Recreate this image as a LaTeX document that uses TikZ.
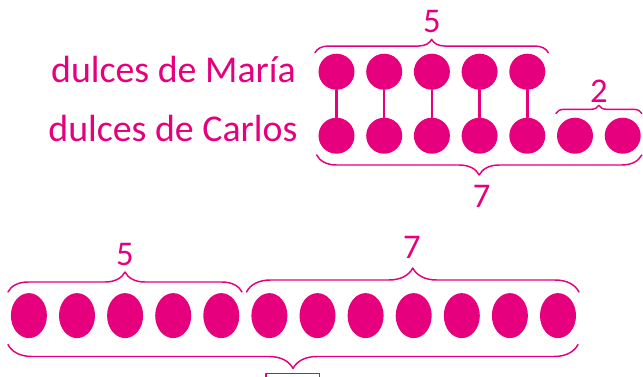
\documentclass[tikz,border=0pt]{standalone}
\usepackage{fontspec}
\setmainfont{Carlito}
\usetikzlibrary{decorations.pathreplacing,shapes.geometric}
\definecolor{rosa}{HTML}{E6007E}
\begin{document}
\begin{tikzpicture}[x=.75pt,y=-.75pt,line join=round,line cap=round,color=rosa,
  font=\fontsize{28.4}{32}\selectfont,
  dulce/.style={circle,fill=rosa,inner sep=0pt,minimum size=27pt},
  dulceo/.style={ellipse,fill=rosa,inner sep=0pt,minimum width=27pt,minimum height=33.75pt},
  llave/.style={decorate,decoration={brace,amplitude=#1},line width=1.1pt},
  num/.style={inner sep=0pt,font=\fontsize{26}{30}\selectfont}]
%========================
\useasboundingbox (0,0) rectangle (643,376);
\clip (0,0) rectangle (643,376);
% arriba
\node[inner sep=0pt,anchor=base east] (maria) at (296,82) {dulces de María};
\node[inner sep=0pt,anchor=base east] (carlos) at (297.7,141) {dulces de Carlos};
\foreach \i in {1,...,5} \node[dulce] (m\i) at ({336.5+47.7*(\i-1)},71.7) {};
\foreach \i in {1,...,7} \node[dulce] (c\i) at ({336.5+47.7*(\i-1)},135.7) {};
\foreach \i in {1,...,5} \draw[line width=1.9pt] (m\i) -- (c\i);
\draw[llave=10pt] (315,52.7) -- (548.3,52.7);
\draw[llave=6pt] (556,113.3) -- (641.7,113.3);
\draw[llave=15pt] (641.7,155) -- (316.7,155);
\node[num] (n5a) at (432,21.7) {5};
\node[num] (n2a) at (599,91.7) {2};
\node[num] (n7a) at (481.7,196.7) {7};
% abajo
\foreach \i in {1,...,12} \node[dulceo] (d\i) at ({28.9+48.1*(\i-1)},315.6) {};
\draw[llave=15pt] (8,292) -- (242,292);
\draw[llave=18pt] (246.5,292) -- (579,292);
\draw[llave=18pt] (578,344.5) -- (8,344.5);
\node[num] (n5b) at (125,254) {5};
\node[num] (n7b) at (412,247) {7};
\node[draw,line width=1pt,inner sep=0pt,minimum width=40pt,minimum height=30pt,anchor=north] (caja) at (292.7,373) {};
%========================
\end{tikzpicture}
\end{document}
